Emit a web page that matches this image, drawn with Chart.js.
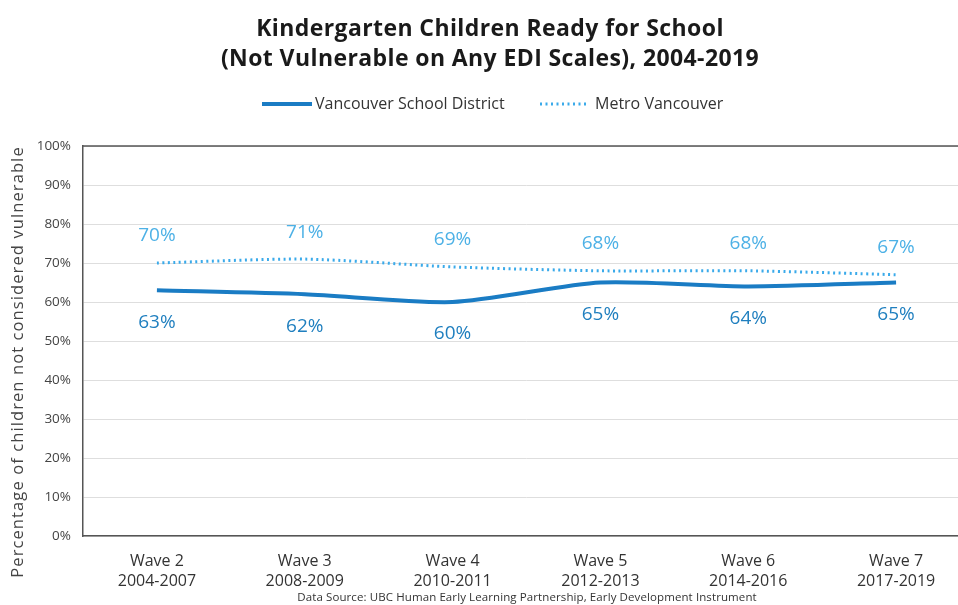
<!DOCTYPE html>
<html>
<head>
<meta charset="utf-8">
<script src="https://cdn.jsdelivr.net/npm/chart.js@4/dist/chart.umd.min.js"></script>
<style>
  html, body { margin: 0; padding: 0; background: #fff; overflow: hidden; }
  #wrap { width: 970px; height: 605px; }
</style>
</head>
<body>
<div id="wrap"><canvas id="edi"></canvas></div>
<script>
// EDI waves and the share of children not vulnerable on any scale
const waves = [
    ['Wave 2', '2004-2007'],
    ['Wave 3', '2008-2009'],
    ['Wave 4', '2010-2011'],
    ['Wave 5', '2012-2013'],
    ['Wave 6', '2014-2016'],
    ['Wave 7', '2017-2019']
];
const vsdValues = [63, 62, 60, 65, 64, 65];
const metroValues = [70, 71, 69, 68, 68, 67];
const yTicks = [0, 10, 20, 30, 40, 50, 60, 70, 80, 90, 100];

const titleLines = ['Kindergarten Children Ready for School', '(Not Vulnerable on Any EDI Scales), 2004-2019'];
const yTitle = 'Percentage of children not considered vulnerable';
const sourceNote = 'Data Source: UBC Human Early Learning Partnership, Early Development Instrument';

const FONT = '"Open Sans", "Noto Sans", sans-serif';

// title, legend, frame, y title, value labels and source line
const decorations = {
    id: 'decorations',
    afterDraw(chart) {
        const ctx = chart.ctx;
        const area = chart.chartArea;
        ctx.save();

        // title
        ctx.fillStyle = '#1a1a1a';
        ctx.font = 'bold 23px ' + FONT;
        ctx.letterSpacing = '0.4px';
        ctx.textAlign = 'center';
        ctx.textBaseline = 'middle';
        ctx.fillText(titleLines[0], 490, 29);
        ctx.fillText(titleLines[1], 490, 59);
        ctx.letterSpacing = '0px';

        // legend
        const ds = chart.data.datasets;
        ctx.font = '16px ' + FONT;
        ctx.textAlign = 'left';
        ctx.fillStyle = '#333';
        ctx.lineCap = 'butt';
        ctx.strokeStyle = ds[0].borderColor;
        ctx.lineWidth = 4;
        ctx.setLineDash([]);
        ctx.beginPath(); ctx.moveTo(262, 104); ctx.lineTo(312, 104); ctx.stroke();
        ctx.fillText(ds[0].label, 315, 104);
        ctx.strokeStyle = ds[1].borderColor;
        ctx.lineWidth = 3;
        ctx.setLineDash(ds[1].borderDash);
        ctx.beginPath(); ctx.moveTo(540, 104); ctx.lineTo(586, 104); ctx.stroke();
        ctx.setLineDash([]);
        ctx.fillText(ds[1].label, 595, 104);

        // top border of the plot frame
        ctx.strokeStyle = '#555';
        ctx.lineWidth = 1.5;
        ctx.beginPath(); ctx.moveTo(area.left, area.top); ctx.lineTo(area.right, area.top); ctx.stroke();

        // rotated y axis title
        ctx.save();
        ctx.translate(18, 362);
        ctx.rotate(-Math.PI / 2);
        ctx.textAlign = 'center';
        ctx.fillStyle = '#444';
        ctx.font = '16.5px ' + FONT;
        ctx.letterSpacing = '1.1px';
        ctx.fillText(yTitle, 0, 0);
        ctx.restore();

        // value labels: Metro above, district below
        ctx.font = '19px ' + FONT;
        ctx.textAlign = 'center';
        chart.getDatasetMeta(1).data.forEach((pt, i) => {
            ctx.fillStyle = '#4db1e6';
            ctx.fillText(metroValues[i] + '%', pt.x, pt.y - 27);
        });
        chart.getDatasetMeta(0).data.forEach((pt, i) => {
            ctx.fillStyle = '#1f7fbf';
            ctx.fillText(vsdValues[i] + '%', pt.x, pt.y + 32);
        });

        // source line
        ctx.font = '11.5px ' + FONT;
        ctx.letterSpacing = '0.1px';
        ctx.fillStyle = '#333';
        ctx.fillText(sourceNote, 527, 598);
        ctx.restore();
    }
};

new Chart(document.getElementById('edi'), {
    type: 'line',
    data: {
        labels: waves,
        datasets: [
            {
                label: 'Vancouver School District',
                data: vsdValues,
                borderColor: '#1a7cc4',
                borderWidth: 4,
                pointRadius: 0,
                tension: 0.25,
                fill: false
            },
            {
                label: 'Metro Vancouver',
                data: metroValues,
                borderColor: '#3aaaea',
                borderWidth: 3,
                borderDash: [2, 3.5],
                pointRadius: 0,
                tension: 0.25,
                fill: false
            }
        ]
    },
    options: {
        responsive: true,
        maintainAspectRatio: false,
        animation: false,
        layout: { padding: { top: 146, right: 0, bottom: 0, left: 0 } },
        plugins: {
            legend: { display: false },
            title: { display: false },
            tooltip: { enabled: false }
        },
        scales: {
            x: {
                offset: true,
                afterFit(scale) { scale.height = 69; },
                grid: { display: false },
                border: { display: true, color: '#555', width: 1.5 },
                ticks: {
                    color: '#333',
                    padding: 7,
                    maxRotation: 0,
                    font: { family: FONT, size: 16, lineHeight: 1.25 }
                }
            },
            y: {
                min: 0,
                max: 100,
                afterFit(scale) { scale.width = 83; },
                afterBuildTicks(scale) { scale.ticks = yTicks.map(v => ({ value: v })); },
                grid: { color: '#dedede', lineWidth: 1, drawTicks: false },
                border: { display: true, color: '#555', width: 1.5 },
                ticks: {
                    color: '#444',
                    padding: 12,
                    font: { family: FONT, size: 13.5 },
                    callback: v => v + '%'
                }
            }
        }
    },
    plugins: [decorations]
});
</script>
</body>
</html>
